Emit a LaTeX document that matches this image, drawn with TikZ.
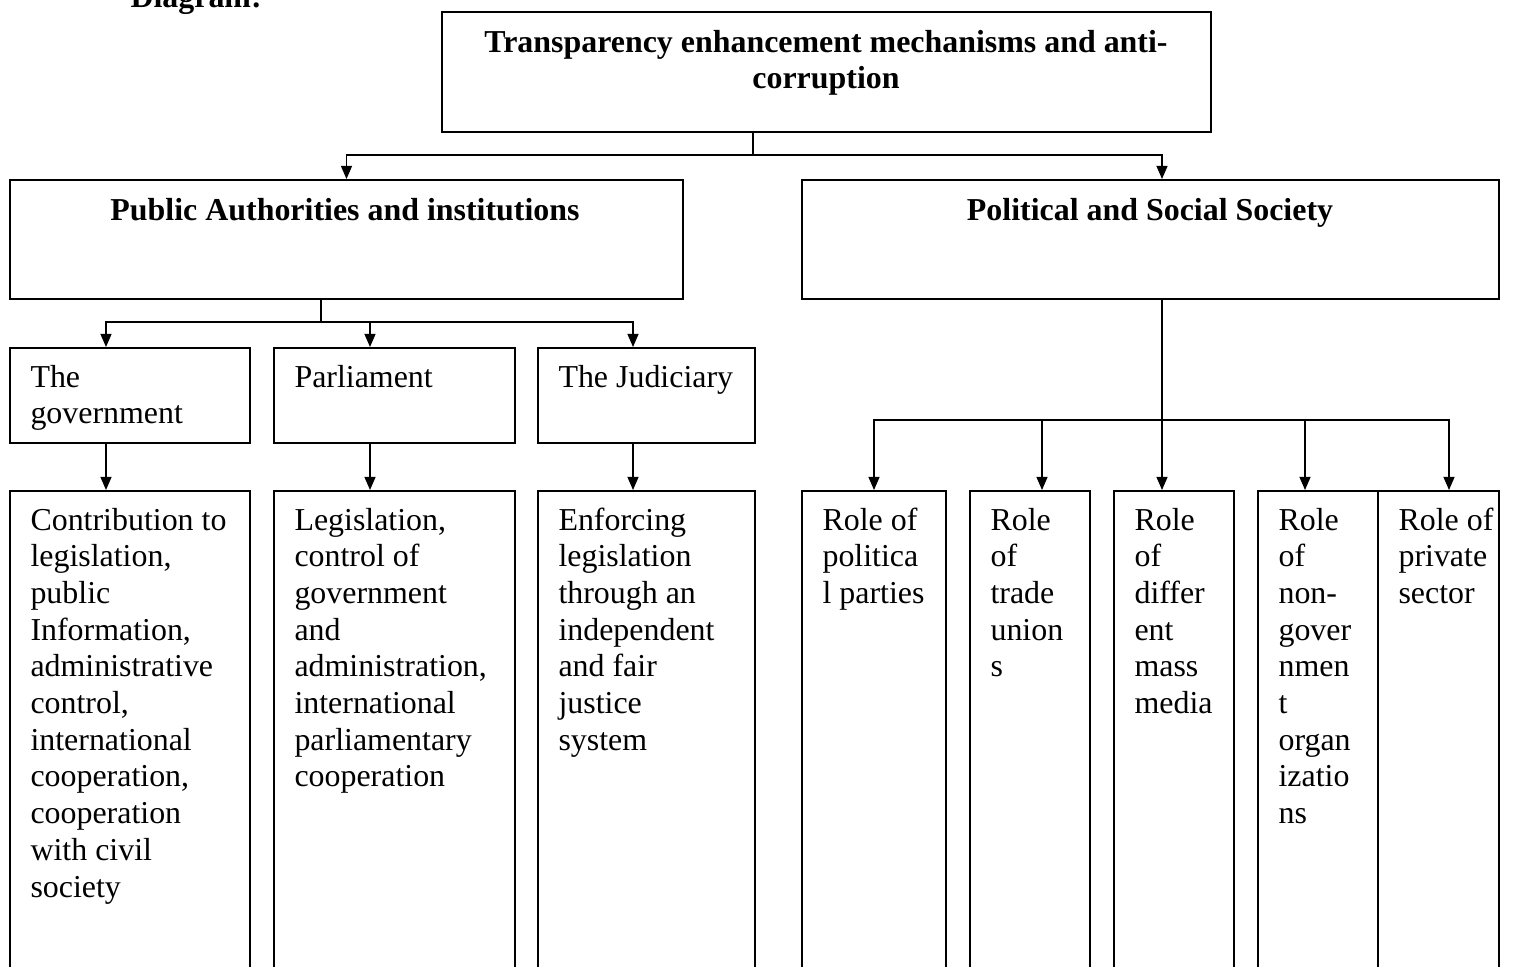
\documentclass[tikz,border=0pt]{standalone}
\usepackage{fontspec}
\setmainfont{Liberation Serif}
\usetikzlibrary{arrows.meta,positioning,calc}

\def\px{0.376pt}
\newcommand\boxnode[5]{%
  \node[box,minimum width={#4*\px},minimum height={#5*\px}] (#1) at (#2,#3) {};}
% lines hang from the baseline of the first one
\newcommand\leftlines[1]{\begin{tabular}[t]{@{}l@{}}#1\end{tabular}}
\newcommand\midlines[1]{\begin{tabular}[t]{@{}c@{}}#1\end{tabular}}

\begin{document}
\begin{tikzpicture}[
  x=0.376pt, y=-0.376pt,
  every node/.style={font=\fontsize{12}{13.8}\selectfont},
  box/.style={draw,line width=0.75pt,anchor=north west,inner sep=0pt},
  txt/.style={anchor=base west,inner sep=0pt},
  head/.style={anchor=base,inner sep=0pt,
    font=\fontsize{12}{13.8}\selectfont\bfseries},
  line/.style={line width=0.55pt},
  arr/.style={line width=0.55pt,-{Triangle[length=4.9pt,width=4.1pt]}},
]
\useasboundingbox (0,0) rectangle (1528,966);

%% Caption (cut at the top of the page)
\node[head,anchor=base west] (cap) at (130,7) {Diagram:};

%% ── Level 0: root ────────────────────────────────────────────────────────
\boxnode{root}{441}{11}{769}{120}
\node[head] (roottxt) at (826,52)
  {\midlines{Transparency enhancement mechanisms and anti-\\corruption}};

%% ── Level 1: two branches ────────────────────────────────────────────────
\boxnode{pa}{9}{179}{673}{119}
\node[head] (patxt) at (345,220) {Public Authorities and institutions};
\boxnode{ps}{801}{179}{697}{119}
\node[head] (pstxt) at (1150,220) {Political and Social Society};

\coordinate (rootjoin) at (753,155);
\coordinate (psin)     at (1162,179);
\draw[line] (root.south -| rootjoin) -- (rootjoin);
\draw[arr] (rootjoin) -| (pa.north);
\draw[arr] (rootjoin) -| (psin);

%% ── Level 2: public authorities ─────────────────────────────────────────
\boxnode{gov}{9}{347}{240}{95}
\node[txt] (govtxt) at (30,387) {\leftlines{The\\government}};
\boxnode{parl}{273}{347}{241}{95}
\node[txt] (parltxt) at (294,387) {Parliament};
\boxnode{jud}{537}{347}{217}{95}
\node[txt] (judtxt) at (558,387) {The Judiciary};

\coordinate (pajoin) at (321,322);
\coordinate (govin)  at (106,347);
\coordinate (parlin) at (370,347);
\coordinate (judin)  at (633,347);
\draw[line] (pa.south -| pajoin) -- (pajoin);
\foreach \b in {govin,parlin,judin}
  \draw[arr] (pajoin) -| (\b);

%% ── Level 3: tasks of each authority ────────────────────────────────────
\boxnode{contr}{9}{490}{240}{520}
\node[txt] (contrtxt) at (30,530)
  {\leftlines{Contribution to\\legislation,\\public\\Information,\\administrative\\control,\\international\\cooperation,\\cooperation\\with civil\\society}};
\boxnode{legis}{273}{490}{241}{520}
\node[txt] (legistxt) at (294,530)
  {\leftlines{Legislation,\\control of\\government\\and\\administration,\\international\\parliamentary\\cooperation}};
\boxnode{enforce}{537}{490}{217}{520}
\node[txt] (enforcetxt) at (558,530)
  {\leftlines{Enforcing\\legislation\\through an\\independent\\and fair\\justice\\system}};

\draw[arr] (govin |- gov.south) -- (govin |- contr.north);
\draw[arr] (parlin |- parl.south) -- (parlin |- legis.north);
\draw[arr] (judin |- jud.south) -- (judin |- enforce.north);

%% ── Level 2: political and social society ───────────────────────────────
\boxnode{parties}{801}{490}{144}{520}
\node[txt] (partiestxt) at (822,530) {\leftlines{Role of\\politica\\l parties}};
\boxnode{unions}{969}{490}{120}{520}
\node[txt] (unionstxt) at (990,530) {\leftlines{Role\\of\\trade\\union\\s}};
\boxnode{media}{1113}{490}{120}{520}
\node[txt] (mediatxt) at (1134,530) {\leftlines{Role\\of\\differ\\ent\\mass\\media}};
\boxnode{ngo}{1257}{490}{120}{520}
\node[txt] (ngotxt) at (1278,530)
  {\leftlines{Role\\of\\non-\\gover\\nmen\\t\\organ\\izatio\\ns}};
\boxnode{private}{1377}{490}{121}{520}
\node[txt] (privatetxt) at (1398,530) {\leftlines{Role of\\private\\sector}};

\coordinate (psjoin)    at (1162,420);
\coordinate (partiesin) at (874,490);
\coordinate (unionsin)  at (1042,490);
\coordinate (ngoin)     at (1305,490);
\coordinate (privatein) at (1449,490);
\draw[arr] (ps.south -| psjoin) -- (psjoin |- media.north);
\foreach \b in {partiesin,unionsin,ngoin,privatein}
  \draw[arr] (psjoin) -| (\b);

\end{tikzpicture}
\end{document}
